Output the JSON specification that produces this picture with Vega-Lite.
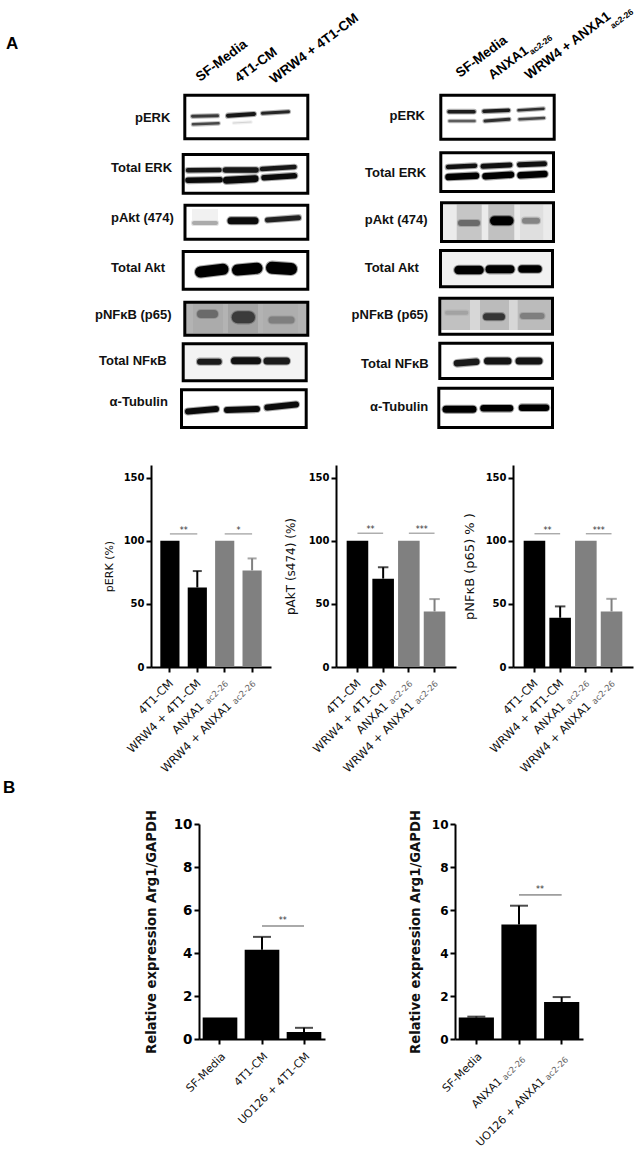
{
"$schema":"https://vega.github.io/schema/vega-lite/v6.json",
"background":"white","padding":0,"bounds":"flush","spacing":0,
"config":{"view":{"stroke":null},"concat":{"spacing":0},
"axis":{"domainColor":"#000","domainWidth":2,"tickColor":"#000","tickWidth":2,"tickSize":5,"grid":false,"labelColor":"#000","titleColor":"#111","labelFont":"DejaVu Sans","labelFontWeight":"bold","titleFont":"DejaVu Sans","titleFontWeight":"normal"}},
"datasets":{
"frames":[
{"x":18.48,"x2":30.78,"y":9.52,"y2":13.88,"k":0},{"x":18.32,"x2":30.78,"y":15.45,"y2":19.32,"k":0},{"x":18.5,"x2":30.78,"y":20.52,"y2":23.92,"k":0},{"x":18.32,"x2":30.78,"y":25.15,"y2":28.92,"k":0},{"x":18.48,"x2":30.78,"y":30.22,"y2":33.52,"k":0.27},{"x":18.32,"x2":30.62,"y":34.38,"y2":38.08,"k":0.04},{"x":18.15,"x2":30.62,"y":38.98,"y2":42.75,"k":0},
{"x":44.08,"x2":55.42,"y":9.52,"y2":13.92,"k":0},{"x":44.08,"x2":55.35,"y":15.28,"y2":19.15,"k":0},{"x":44.15,"x2":55.35,"y":20.28,"y2":24.15,"k":0.07},{"x":44.05,"x2":55.25,"y":25.05,"y2":28.68,"k":0.05},{"x":43.98,"x2":55.25,"y":29.82,"y2":33.42,"k":0.14},{"x":43.98,"x2":55.25,"y":34.32,"y2":37.85,"k":0},{"x":43.88,"x2":55.25,"y":38.82,"y2":42.75,"k":0}],
"smears":[
{"x":19.3,"x2":22.3,"y":30.4,"y2":33.3,"k":0.3},{"x":22.8,"x2":25.8,"y":30.4,"y2":33.3,"k":0.33},{"x":26.3,"x2":29.8,"y":30.4,"y2":33.3,"k":0.29},{"x":19.2,"x2":21.8,"y":20.9,"y2":22.0,"k":0.05},
{"x":45.67,"x2":48.17,"y":20.45,"y2":24.0,"k":0.2},{"x":48.83,"x2":51.43,"y":20.45,"y2":24.0,"k":0.22},{"x":52.0,"x2":54.33,"y":20.45,"y2":24.0,"k":0.11},
{"x":44.17,"x2":47.0,"y":30.0,"y2":33.0,"k":0.22},{"x":48.0,"x2":50.9,"y":30.0,"y2":33.0,"k":0.24},{"x":51.77,"x2":55.1,"y":30.0,"y2":33.0,"k":0.24},{"x":44.1,"x2":55.1,"y":33.0,"y2":33.3,"k":0}],
"bands":[
{"b":"La","x":19.25,"y":11.63,"w":3,"k":0.75},{"b":"La","x":21.75,"y":11.57,"w":3,"k":0.75},
{"b":"Lb","x":19.3,"y":12.43,"w":2.5,"k":0.7},{"b":"Lb","x":21.85,"y":12.33,"w":2.5,"k":0.7},
{"b":"Lc","x":22.8,"y":11.57,"w":4,"k":0.92},{"b":"Lc","x":25.4,"y":11.4,"w":4,"k":0.92},
{"b":"Ld","x":23.35,"y":12.3,"w":1.2,"k":0.15},{"b":"Ld","x":25.1,"y":12.2,"w":1.2,"k":0.15},
{"b":"Le","x":26.25,"y":11.33,"w":3,"k":0.85},{"b":"Le","x":28.85,"y":11.17,"w":3,"k":0.85},
{"b":"Lf","x":18.8,"y":17.03,"w":4.5,"k":0.92},{"b":"Lf","x":21.95,"y":17.0,"w":4.5,"k":0.92},
{"b":"Lg","x":22.55,"y":17.0,"w":5.5,"k":0.92},{"b":"Lg","x":25.6,"y":17.0,"w":5.5,"k":0.92},
{"b":"Lh","x":26.2,"y":16.9,"w":4.5,"k":0.92},{"b":"Lh","x":29.45,"y":16.7,"w":4.5,"k":0.92},
{"b":"Li","x":18.8,"y":18.03,"w":5.5,"k":0.97},{"b":"Li","x":22.0,"y":17.97,"w":5.5,"k":0.97},
{"b":"Lj","x":22.65,"y":18.03,"w":7,"k":0.97},{"b":"Lj","x":25.5,"y":17.87,"w":7,"k":0.97},
{"b":"Lk","x":26.4,"y":17.77,"w":5.5,"k":0.97},{"b":"Lk","x":29.45,"y":17.57,"w":5.5,"k":0.97},
{"b":"Ll","x":19.4,"y":22.3,"w":4,"k":0.3},{"b":"Ll","x":21.6,"y":22.3,"w":4,"k":0.3},
{"b":"Lm","x":23.1,"y":22.07,"w":7,"k":0.97},{"b":"Lm","x":25.5,"y":22.07,"w":7,"k":0.97},
{"b":"Ln","x":26.75,"y":22.0,"w":5,"k":0.87},{"b":"Ln","x":29.85,"y":21.77,"w":5,"k":0.87},
{"b":"Lo","x":20.05,"y":27.2,"w":11,"k":1},{"b":"Lo","x":22.3,"y":26.93,"w":11,"k":1},
{"b":"Lp","x":23.75,"y":27.0,"w":11,"k":1},{"b":"Lp","x":25.7,"y":26.83,"w":11,"k":1},
{"b":"Lq","x":27.2,"y":26.77,"w":12,"k":1},{"b":"Lq","x":29.1,"y":26.9,"w":12,"k":1},
{"b":"Lr","x":20.1,"y":31.4,"w":8,"k":0.55},{"b":"Lr","x":21.4,"y":31.4,"w":8,"k":0.55},
{"b":"Ls","x":23.77,"y":31.73,"w":12,"k":0.75},{"b":"Ls","x":24.9,"y":31.73,"w":12,"k":0.75},
{"b":"Lt","x":27.2,"y":32.0,"w":7,"k":0.47},{"b":"Lt","x":29.1,"y":32.0,"w":7,"k":0.47},
{"b":"Lu","x":20.0,"y":36.17,"w":6,"k":0.9},{"b":"Lu","x":21.87,"y":36.17,"w":6,"k":0.9},
{"b":"Lv","x":23.45,"y":36.07,"w":7,"k":0.95},{"b":"Lv","x":25.75,"y":36.07,"w":7,"k":0.95},
{"b":"Lw","x":26.7,"y":36.1,"w":7,"k":0.9},{"b":"Lw","x":28.65,"y":36.1,"w":7,"k":0.9},
{"b":"Lx","x":18.8,"y":41.15,"w":6,"k":0.97},{"b":"Lx","x":21.6,"y":40.9,"w":6,"k":0.97},
{"b":"Ly","x":22.7,"y":41.0,"w":6,"k":0.97},{"b":"Ly","x":25.7,"y":40.9,"w":6,"k":0.97},
{"b":"Lz","x":26.73,"y":40.75,"w":6,"k":0.97},{"b":"Lz","x":29.6,"y":40.45,"w":6,"k":0.97},
{"b":"Ra","x":44.9,"y":11.17,"w":3.5,"k":0.9},{"b":"Ra","x":47.4,"y":11.17,"w":3.5,"k":0.9},
{"b":"Rb","x":48.4,"y":11.13,"w":3.5,"k":0.9},{"b":"Rb","x":50.85,"y":11.03,"w":3.5,"k":0.9},
{"b":"Rc","x":51.85,"y":11.03,"w":2.5,"k":0.8},{"b":"Rc","x":54.35,"y":10.87,"w":2.5,"k":0.8},
{"b":"Rd","x":44.95,"y":12.1,"w":2.5,"k":0.6},{"b":"Rd","x":47.45,"y":12.1,"w":2.5,"k":0.6},
{"b":"Re","x":48.5,"y":12.1,"w":3,"k":0.8},{"b":"Re","x":50.9,"y":11.93,"w":3,"k":0.8},
{"b":"Rf","x":51.95,"y":11.93,"w":2.5,"k":0.7},{"b":"Rf","x":54.4,"y":11.8,"w":2.5,"k":0.7},
{"b":"Rg","x":44.8,"y":16.7,"w":4.5,"k":0.95},{"b":"Rg","x":47.5,"y":16.57,"w":4.5,"k":0.95},
{"b":"Rh","x":48.3,"y":16.63,"w":5,"k":0.95},{"b":"Rh","x":51.0,"y":16.5,"w":5,"k":0.95},
{"b":"Ri","x":51.95,"y":16.47,"w":5,"k":0.95},{"b":"Ri","x":54.45,"y":16.37,"w":5,"k":0.95},
{"b":"Rj","x":44.85,"y":17.7,"w":6.5,"k":1},{"b":"Rj","x":47.6,"y":17.57,"w":6.5,"k":1},
{"b":"Rk","x":48.55,"y":17.63,"w":6.5,"k":1},{"b":"Rk","x":51.1,"y":17.47,"w":6.5,"k":1},
{"b":"Rl","x":52.05,"y":17.53,"w":6.5,"k":1},{"b":"Rl","x":54.45,"y":17.4,"w":6.5,"k":1},
{"b":"Rm","x":46.1,"y":22.3,"w":6,"k":0.55},{"b":"Rm","x":47.7,"y":22.3,"w":6,"k":0.55},
{"b":"Rn","x":49.45,"y":22.07,"w":9,"k":1},{"b":"Rn","x":50.9,"y":22.07,"w":9,"k":1},
{"b":"Ro","x":52.5,"y":22.07,"w":6,"k":0.45},{"b":"Ro","x":53.7,"y":22.07,"w":6,"k":0.45},
{"b":"Rp","x":45.85,"y":27.0,"w":8.5,"k":1},{"b":"Rp","x":47.95,"y":27.0,"w":8.5,"k":1},
{"b":"Rq","x":48.95,"y":26.93,"w":8,"k":1},{"b":"Rq","x":51.05,"y":26.93,"w":8,"k":1},
{"b":"Rr","x":52.2,"y":26.9,"w":7.5,"k":1},{"b":"Rr","x":53.8,"y":26.9,"w":7.5,"k":1},
{"b":"Rs","x":44.7,"y":31.27,"w":4,"k":0.33},{"b":"Rs","x":46.63,"y":31.27,"w":4,"k":0.33},
{"b":"Rt","x":48.65,"y":31.67,"w":7,"k":0.78},{"b":"Rt","x":50.15,"y":31.67,"w":7,"k":0.78},
{"b":"Ru","x":52.3,"y":31.6,"w":6,"k":0.47},{"b":"Ru","x":54.15,"y":31.6,"w":6,"k":0.47},
{"b":"Rv","x":45.7,"y":36.33,"w":6.5,"k":0.9},{"b":"Rv","x":47.63,"y":36.17,"w":6.5,"k":0.9},
{"b":"Rw","x":48.75,"y":36.1,"w":7,"k":0.93},{"b":"Rw","x":50.8,"y":36.1,"w":7,"k":0.93},
{"b":"Rx","x":51.9,"y":36.1,"w":7,"k":0.93},{"b":"Rx","x":53.9,"y":36.1,"w":7,"k":0.93},
{"b":"Ry","x":44.6,"y":40.93,"w":7,"k":1},{"b":"Ry","x":47.3,"y":40.93,"w":7,"k":1},
{"b":"Rz","x":48.35,"y":40.83,"w":6.5,"k":1},{"b":"Rz","x":51.0,"y":40.83,"w":6.5,"k":1},
{"b":"RA","x":52.2,"y":40.77,"w":6.5,"k":1},{"b":"RA","x":54.6,"y":40.77,"w":6.5,"k":1}],
"rowLabels":[
{"t":"pERK","x":13.5,"y":11.8},{"t":"Total ERK","x":11.1,"y":16.8},{"t":"pAkt (474)","x":11.1,"y":21.8},{"t":"Total Akt","x":11.1,"y":26.8},{"t":"pNFκB (p65)","x":9.5,"y":31.5},{"t":"Total NFκB","x":9.9,"y":36.1},{"t":"α-Tubulin","x":10.96,"y":40.2},
{"t":"pERK","x":38.96,"y":11.6},{"t":"Total ERK","x":36.5,"y":17.27},{"t":"pAkt (474)","x":36.47,"y":22.0},{"t":"Total Akt","x":36.47,"y":26.77},{"t":"pNFκB (p65)","x":35.16,"y":31.5},{"t":"Total NFκB","x":36.1,"y":36.4},{"t":"α-Tubulin","x":37.0,"y":40.7}],
"colLabels":[
{"t":"SF-Media","x":20.0,"y":8.2},{"t":"4T1-CM","x":23.9,"y":8.3},{"t":"WRW4 + 4T1-CM","x":27.4,"y":8.4},
{"t":"SF-Media","x":46.0,"y":7.8},{"t":"ANXA1","x":49.26,"y":8.0},{"t":"WRW4 + ANXA1","x":52.9,"y":8.0}],
"colSubs":[{"t":"ac2-26","x":53.2,"y":5.5},{"t":"ac2-26","x":61.3,"y":2.9}]
},
"vconcat":[
{"width":639,"height":465,
 "layer":[
 {"data":{"name":"frames"},"mark":{"type":"rect"},"encoding":{"x":{"field":"x","type":"quantitative","scale":{"domain":[0,63.9],"nice":false,"zero":false},"axis":null},"x2":{"field":"x2"},"y":{"field":"y","type":"quantitative","scale":{"domain":[46.5,0],"nice":false,"zero":false},"axis":null},"y2":{"field":"y2"},"color":{"field":"k","type":"quantitative","scale":{"domain":[0,1],"range":["#ffffff","#000000"]},"legend":null}}},
 {"data":{"name":"smears"},"mark":{"type":"rect"},"encoding":{"x":{"field":"x","type":"quantitative"},"x2":{"field":"x2"},"y":{"field":"y","type":"quantitative"},"y2":{"field":"y2"},"color":{"field":"k","type":"quantitative","legend":null}}},
 {"data":{"name":"bands"},"mark":{"type":"trail","strokeWidth":2.2,"strokeOpacity":0.35},"encoding":{"x":{"field":"x","type":"quantitative"},"y":{"field":"y","type":"quantitative"},"detail":{"field":"b"},"size":{"field":"w","type":"quantitative","scale":null},"color":{"field":"k","type":"quantitative","legend":null},"stroke":{"field":"k","type":"quantitative","scale":{"domain":[0,1],"range":["#ffffff","#000000"]},"legend":null}}},
 {"data":{"name":"frames"},"mark":{"type":"rect","fillOpacity":0,"stroke":"#000","strokeWidth":3},"encoding":{"x":{"field":"x","type":"quantitative"},"x2":{"field":"x2"},"y":{"field":"y","type":"quantitative"},"y2":{"field":"y2"}}},
 {"data":{"name":"rowLabels"},"mark":{"type":"text","font":"Liberation Sans","fontWeight":"bold","fontSize":13,"align":"left","baseline":"middle","color":"#111"},"encoding":{"x":{"field":"x","type":"quantitative"},"y":{"field":"y","type":"quantitative"},"text":{"field":"t"}}},
 {"data":{"name":"colLabels"},"mark":{"type":"text","font":"Liberation Sans","fontWeight":"bold","fontSize":13.5,"align":"left","baseline":"alphabetic","angle":323,"color":"#000"},"encoding":{"x":{"field":"x","type":"quantitative"},"y":{"field":"y","type":"quantitative"},"text":{"field":"t"}}},
 {"data":{"name":"colSubs"},"mark":{"type":"text","font":"Liberation Sans","fontWeight":"bold","fontSize":8.5,"align":"left","baseline":"alphabetic","angle":323,"color":"#000"},"encoding":{"x":{"field":"x","type":"quantitative"},"y":{"field":"y","type":"quantitative"},"text":{"field":"t"}}},
 {"data":{"values":[{"t":"A","x":0.6,"y":4.9}]},"mark":{"type":"text","font":"Liberation Sans","fontWeight":"bold","fontSize":17,"align":"left","baseline":"alphabetic","color":"#000"},"encoding":{"x":{"field":"x","type":"quantitative"},"y":{"field":"y","type":"quantitative"},"text":{"field":"t"}}}
 ]},
{"bounds":"flush","spacing":0,"hconcat":[
 {"width":151,"height":1,"data":{"values":[{}]},"mark":{"type":"point","opacity":0}},
 {"width":120,"height":202,
  "data":{"values":[{"c":"4T1-CM","g":"a","v":100,"label":"4T1-CM"},{"c":"WRW4 + 4T1-CM","g":"a","v":63,"u":76,"label":"WRW4 + 4T1-CM"},{"c":"ANXA1ac2-26","g":"b","v":100,"label":"ANXA1","sub":"ac2-26"},{"c":"WRW4 + ANXA1ac2-26","g":"b","v":76.5,"u":86,"label":"WRW4 + ANXA1","sub":"ac2-26"}]},
  "encoding":{"x":{"field":"c","type":"nominal","title":null,"sort":null,"scale":{"domain":["4T1-CM","WRW4 + 4T1-CM","ANXA1ac2-26","WRW4 + ANXA1ac2-26"],"paddingInner":0.3,"paddingOuter":0.34},"axis":{"labels":false}}},
  "layer":[
  {"mark":{"type":"bar"},"encoding":{"y":{"field":"v","type":"quantitative","title":"pERK (%)","scale":{"domain":[0,150]},"axis":{"values":[0,50,100,150],"labelFontSize":10,"labelPadding":2,"titleFontSize":11,"titlePadding":9}},"color":{"field":"g","type":"nominal","scale":{"domain":["a","b"],"range":["#000000","#808080"]},"legend":null}}},
  {"transform":[{"filter":"datum.u>0"}],"mark":{"type":"rule","strokeWidth":2},"encoding":{"y":{"field":"v","type":"quantitative"},"y2":{"field":"u"},"color":{"field":"g","type":"nominal","legend":null}}},
  {"transform":[{"filter":"datum.u>0"}],"mark":{"type":"tick","size":9,"thickness":2},"encoding":{"y":{"field":"u","type":"quantitative"},"color":{"field":"g","type":"nominal","legend":null}}},
  {"transform":[{"filter":"!datum.sub"}],"mark":{"type":"text","font":"DejaVu Sans","fontSize":11.5,"angle":315,"align":"right","baseline":"middle","xOffset":2,"yOffset":15,"color":"#111"},"encoding":{"y":{"datum":0},"text":{"field":"label"}}},
  {"transform":[{"filter":"datum.sub"}],"mark":{"type":"text","font":"DejaVu Sans","fontSize":11.5,"angle":315,"align":"right","baseline":"middle","dx":-33,"dy":-1,"xOffset":2,"yOffset":15,"color":"#111"},"encoding":{"y":{"datum":0},"text":{"field":"label"}}},
  {"transform":[{"filter":"datum.sub"}],"mark":{"type":"text","font":"DejaVu Sans","fontSize":8.5,"angle":315,"align":"right","baseline":"middle","xOffset":2,"yOffset":15,"color":"#666"},"encoding":{"y":{"datum":0},"text":{"field":"sub"}}},
  {"data":{"values":[{"a":"4T1-CM","b":"WRW4 + 4T1-CM","l":105.4,"t":"**"},{"a":"ANXA1ac2-26","b":"WRW4 + ANXA1ac2-26","l":105.4,"t":"*"}]},"mark":{"type":"rule","color":"#888","strokeWidth":1},"encoding":{"x":{"field":"a","type":"nominal"},"x2":{"field":"b"},"y":{"field":"l","type":"quantitative"}}},
  {"data":{"values":[{"a":"4T1-CM","l":108,"t":"**"},{"a":"ANXA1ac2-26","l":108,"t":"*"}]},"mark":{"type":"text","font":"DejaVu Sans","fontSize":8,"color":"#333","baseline":"middle"},"encoding":{"x":{"field":"a","type":"nominal","bandPosition":1.22},"y":{"field":"l","type":"quantitative"},"text":{"field":"t"}}}
  ]},
 {"width":65,"height":1,"data":{"values":[{}]},"mark":{"type":"point","opacity":0}},
 {"width":120,"height":202,
  "data":{"values":[{"c":"4T1-CM","g":"a","v":100,"label":"4T1-CM"},{"c":"WRW4 + 4T1-CM","g":"a","v":70,"u":79,"label":"WRW4 + 4T1-CM"},{"c":"ANXA1ac2-26","g":"b","v":100,"label":"ANXA1","sub":"ac2-26"},{"c":"WRW4 + ANXA1ac2-26","g":"b","v":44,"u":53.8,"label":"WRW4 + ANXA1","sub":"ac2-26"}]},
  "encoding":{"x":{"field":"c","type":"nominal","title":null,"sort":null,"scale":{"domain":["4T1-CM","WRW4 + 4T1-CM","ANXA1ac2-26","WRW4 + ANXA1ac2-26"],"paddingInner":0.16,"paddingOuter":0.415},"axis":{"labels":false}}},
  "layer":[
  {"mark":{"type":"bar"},"encoding":{"y":{"field":"v","type":"quantitative","title":"pAkT (s474) (%)","scale":{"domain":[0,150]},"axis":{"values":[0,50,100,150],"labelFontSize":10,"labelPadding":2,"titleFontSize":12,"titlePadding":11}},"color":{"field":"g","type":"nominal","scale":{"domain":["a","b"],"range":["#000000","#808080"]},"legend":null}}},
  {"transform":[{"filter":"datum.u>0"}],"mark":{"type":"rule","strokeWidth":2},"encoding":{"y":{"field":"v","type":"quantitative"},"y2":{"field":"u"},"color":{"field":"g","type":"nominal","legend":null}}},
  {"transform":[{"filter":"datum.u>0"}],"mark":{"type":"tick","size":10.5,"thickness":2},"encoding":{"y":{"field":"u","type":"quantitative"},"color":{"field":"g","type":"nominal","legend":null}}},
  {"transform":[{"filter":"!datum.sub"}],"mark":{"type":"text","font":"DejaVu Sans","fontSize":11.5,"angle":315,"align":"right","baseline":"middle","xOffset":2,"yOffset":15,"color":"#111"},"encoding":{"y":{"datum":0},"text":{"field":"label"}}},
  {"transform":[{"filter":"datum.sub"}],"mark":{"type":"text","font":"DejaVu Sans","fontSize":11.5,"angle":315,"align":"right","baseline":"middle","dx":-33,"dy":-1,"xOffset":2,"yOffset":15,"color":"#111"},"encoding":{"y":{"datum":0},"text":{"field":"label"}}},
  {"transform":[{"filter":"datum.sub"}],"mark":{"type":"text","font":"DejaVu Sans","fontSize":8.5,"angle":315,"align":"right","baseline":"middle","xOffset":2,"yOffset":15,"color":"#666"},"encoding":{"y":{"datum":0},"text":{"field":"sub"}}},
  {"data":{"values":[{"a":"4T1-CM","b":"WRW4 + 4T1-CM","l":106},{"a":"ANXA1ac2-26","b":"WRW4 + ANXA1ac2-26","l":106}]},"mark":{"type":"rule","color":"#888","strokeWidth":1},"encoding":{"x":{"field":"a","type":"nominal"},"x2":{"field":"b"},"y":{"field":"l","type":"quantitative"}}},
  {"data":{"values":[{"a":"4T1-CM","l":108.5,"t":"**"},{"a":"ANXA1ac2-26","l":108.5,"t":"***"}]},"mark":{"type":"text","font":"DejaVu Sans","fontSize":8,"color":"#333","baseline":"middle"},"encoding":{"x":{"field":"a","type":"nominal","bandPosition":1.1},"y":{"field":"l","type":"quantitative"},"text":{"field":"t"}}}
  ]},
 {"width":57,"height":1,"data":{"values":[{}]},"mark":{"type":"point","opacity":0}},
 {"width":120,"height":202,
  "data":{"values":[{"c":"4T1-CM","g":"a","v":100,"label":"4T1-CM"},{"c":"WRW4 + 4T1-CM","g":"a","v":39,"u":48,"label":"WRW4 + 4T1-CM"},{"c":"ANXA1ac2-26","g":"b","v":100,"label":"ANXA1","sub":"ac2-26"},{"c":"WRW4 + ANXA1ac2-26","g":"b","v":44,"u":54,"label":"WRW4 + ANXA1","sub":"ac2-26"}]},
  "encoding":{"x":{"field":"c","type":"nominal","title":null,"sort":null,"scale":{"domain":["4T1-CM","WRW4 + 4T1-CM","ANXA1ac2-26","WRW4 + ANXA1ac2-26"],"paddingInner":0.16,"paddingOuter":0.415},"axis":{"labels":false}}},
  "layer":[
  {"mark":{"type":"bar"},"encoding":{"y":{"field":"v","type":"quantitative","title":"pNFκB (p65) % )","scale":{"domain":[0,150]},"axis":{"values":[0,50,100,150],"labelFontSize":10,"labelPadding":2,"titleFontSize":13,"titlePadding":9}},"color":{"field":"g","type":"nominal","scale":{"domain":["a","b"],"range":["#000000","#808080"]},"legend":null}}},
  {"transform":[{"filter":"datum.u>0"}],"mark":{"type":"rule","strokeWidth":2},"encoding":{"y":{"field":"v","type":"quantitative"},"y2":{"field":"u"},"color":{"field":"g","type":"nominal","legend":null}}},
  {"transform":[{"filter":"datum.u>0"}],"mark":{"type":"tick","size":10.5,"thickness":2},"encoding":{"y":{"field":"u","type":"quantitative"},"color":{"field":"g","type":"nominal","legend":null}}},
  {"transform":[{"filter":"!datum.sub"}],"mark":{"type":"text","font":"DejaVu Sans","fontSize":11.5,"angle":315,"align":"right","baseline":"middle","xOffset":2,"yOffset":15,"color":"#111"},"encoding":{"y":{"datum":0},"text":{"field":"label"}}},
  {"transform":[{"filter":"datum.sub"}],"mark":{"type":"text","font":"DejaVu Sans","fontSize":11.5,"angle":315,"align":"right","baseline":"middle","dx":-33,"dy":-1,"xOffset":2,"yOffset":15,"color":"#111"},"encoding":{"y":{"datum":0},"text":{"field":"label"}}},
  {"transform":[{"filter":"datum.sub"}],"mark":{"type":"text","font":"DejaVu Sans","fontSize":8.5,"angle":315,"align":"right","baseline":"middle","xOffset":2,"yOffset":15,"color":"#666"},"encoding":{"y":{"datum":0},"text":{"field":"sub"}}},
  {"data":{"values":[{"a":"4T1-CM","b":"WRW4 + 4T1-CM","l":105.5},{"a":"ANXA1ac2-26","b":"WRW4 + ANXA1ac2-26","l":105.5}]},"mark":{"type":"rule","color":"#888","strokeWidth":1},"encoding":{"x":{"field":"a","type":"nominal"},"x2":{"field":"b"},"y":{"field":"l","type":"quantitative"}}},
  {"data":{"values":[{"a":"4T1-CM","l":108,"t":"**"},{"a":"ANXA1ac2-26","l":108,"t":"***"}]},"mark":{"type":"text","font":"DejaVu Sans","fontSize":8,"color":"#333","baseline":"middle"},"encoding":{"x":{"field":"a","type":"nominal","bandPosition":1.1},"y":{"field":"l","type":"quantitative"},"text":{"field":"t"}}}
  ]}
 ]},
{"width":639,"height":359,"data":{"values":[{"t":"B","x":0.3,"y":0.9}]},"mark":{"type":"text","font":"Liberation Sans","fontWeight":"bold","fontSize":17,"align":"left","baseline":"middle","color":"#000"},"encoding":{"x":{"field":"x","type":"quantitative","scale":{"domain":[0,63.9],"nice":false,"zero":false},"axis":null},"y":{"field":"y","type":"quantitative","scale":{"domain":[1,0],"nice":false,"zero":false},"axis":null},"text":{"field":"t"}}},
{"bounds":"flush","spacing":0,"hconcat":[
 {"width":199,"height":1,"data":{"values":[{}]},"mark":{"type":"point","opacity":0}},
 {"width":126,"height":215,
  "data":{"values":[{"c":"SF-Media","v":1,"label":"SF-Media"},{"c":"4T1-CM","v":4.15,"u":4.75,"label":"4T1-CM"},{"c":"UO126 + 4T1-CM","v":0.33,"u":0.52,"label":"UO126 + 4T1-CM"}]},
  "encoding":{"x":{"field":"c","type":"nominal","title":null,"sort":null,"scale":{"domain":["SF-Media","4T1-CM","UO126 + 4T1-CM"],"paddingInner":0.175,"paddingOuter":0.0875},"axis":{"labels":false}}},
  "layer":[
  {"mark":{"type":"bar","color":"#000"},"encoding":{"y":{"field":"v","type":"quantitative","title":"Relative expression Arg1/GAPDH","scale":{"domain":[0,10]},"axis":{"values":[0,2,4,6,8,10],"labelFontSize":13.5,"labelPadding":2,"titleFontSize":13.2,"titleFontWeight":"bold","titlePadding":15}}}},
  {"transform":[{"filter":"datum.u>0"}],"mark":{"type":"rule","strokeWidth":2,"color":"#000"},"encoding":{"y":{"field":"v","type":"quantitative"},"y2":{"field":"u"}}},
  {"transform":[{"filter":"datum.u>0"}],"mark":{"type":"tick","size":18,"thickness":2,"color":"#000"},"encoding":{"y":{"field":"u","type":"quantitative"}}},
  {"mark":{"type":"text","font":"DejaVu Sans","fontSize":11,"angle":315,"align":"right","baseline":"middle","xOffset":4,"yOffset":16,"color":"#111"},"encoding":{"y":{"datum":0},"text":{"field":"label"}}},
  {"data":{"values":[{"a":"4T1-CM","b":"UO126 + 4T1-CM","l":5.26}]},"mark":{"type":"rule","color":"#aaa","strokeWidth":2},"encoding":{"x":{"field":"a","type":"nominal"},"x2":{"field":"b"},"y":{"field":"l","type":"quantitative"}}},
  {"data":{"values":[{"a":"4T1-CM","l":5.5,"t":"**"}]},"mark":{"type":"text","font":"DejaVu Sans","fontSize":8,"color":"#333","baseline":"middle"},"encoding":{"x":{"field":"a","type":"nominal","bandPosition":1.1},"y":{"field":"l","type":"quantitative"},"text":{"field":"t"}}}
  ]},
 {"width":130,"height":1,"data":{"values":[{}]},"mark":{"type":"point","opacity":0}},
 {"width":128,"height":215,
  "data":{"values":[{"c":"SF-Media","v":1,"u":1.04,"label":"SF-Media"},{"c":"ANXA1ac2-26","v":5.33,"u":6.2,"label":"ANXA1","sub":"ac2-26"},{"c":"UO126 + ANXA1ac2-26","v":1.72,"u":1.95,"label":"UO126 + ANXA1","sub":"ac2-26"}]},
  "encoding":{"x":{"field":"c","type":"nominal","title":null,"sort":null,"scale":{"domain":["SF-Media","ANXA1ac2-26","UO126 + ANXA1ac2-26"],"paddingInner":0.175,"paddingOuter":0.0875},"axis":{"labels":false}}},
  "layer":[
  {"mark":{"type":"bar","color":"#000"},"encoding":{"y":{"field":"v","type":"quantitative","title":"Relative expression Arg1/GAPDH","scale":{"domain":[0,10]},"axis":{"values":[0,2,4,6,8,10],"labelFontSize":12,"labelPadding":2,"titleFontSize":13.2,"titleFontWeight":"bold","titlePadding":9}}}},
  {"transform":[{"filter":"datum.u>0"}],"mark":{"type":"rule","strokeWidth":2,"color":"#000"},"encoding":{"y":{"field":"v","type":"quantitative"},"y2":{"field":"u"}}},
  {"transform":[{"filter":"datum.u>0"}],"mark":{"type":"tick","size":18,"thickness":2,"color":"#000"},"encoding":{"y":{"field":"u","type":"quantitative"}}},
  {"transform":[{"filter":"!datum.sub"}],"mark":{"type":"text","font":"DejaVu Sans","fontSize":11,"angle":315,"align":"right","baseline":"middle","xOffset":4,"yOffset":16,"color":"#111"},"encoding":{"y":{"datum":0},"text":{"field":"label"}}},
  {"transform":[{"filter":"datum.sub"}],"mark":{"type":"text","font":"DejaVu Sans","fontSize":11,"angle":315,"align":"right","baseline":"middle","dx":-32,"dy":-1,"xOffset":5,"yOffset":19,"color":"#111"},"encoding":{"y":{"datum":0},"text":{"field":"label"}}},
  {"transform":[{"filter":"datum.sub"}],"mark":{"type":"text","font":"DejaVu Sans","fontSize":8.5,"angle":315,"align":"right","baseline":"middle","xOffset":5,"yOffset":19,"color":"#666"},"encoding":{"y":{"datum":0},"text":{"field":"sub"}}},
  {"data":{"values":[{"a":"ANXA1ac2-26","b":"UO126 + ANXA1ac2-26","l":6.7}]},"mark":{"type":"rule","color":"#555","strokeWidth":1},"encoding":{"x":{"field":"a","type":"nominal"},"x2":{"field":"b"},"y":{"field":"l","type":"quantitative"}}},
  {"data":{"values":[{"a":"ANXA1ac2-26","l":6.95,"t":"**"}]},"mark":{"type":"text","font":"DejaVu Sans","fontSize":8,"color":"#333","baseline":"middle"},"encoding":{"x":{"field":"a","type":"nominal","bandPosition":1.1},"y":{"field":"l","type":"quantitative"},"text":{"field":"t"}}}
  ]}
 ]}
]}
